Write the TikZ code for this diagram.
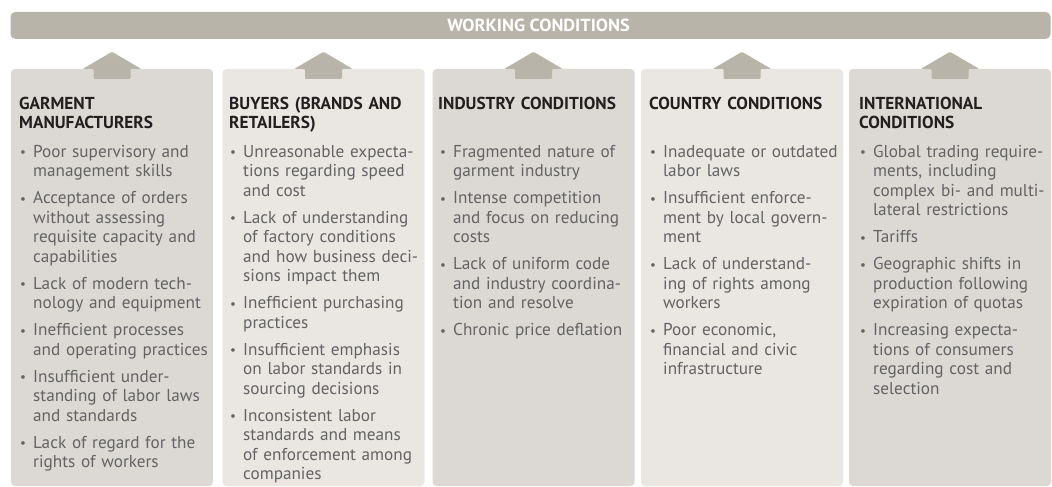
\documentclass[tikz,border=0pt]{standalone}
\usepackage{fontspec}
\setmainfont{PT Sans}
\definecolor{bannerc}{HTML}{B8B4AA}
\definecolor{darkc}{HTML}{DCD9D4}
\definecolor{lightc}{HTML}{EAE7E3}
\definecolor{headc}{HTML}{231F20}
\definecolor{bodyc}{HTML}{636365}
\newcommand\itm[1]{{\let\\\newline\hangindent=13.5pt\hangafter=1\noindent\makebox[13.5pt][l]{\hspace*{0.5pt}\raisebox{0.5pt}{\fontsize{13}{13}\selectfont •}}#1\par}\vspace{7.5pt}}
\tikzset{
  colbox/.style={draw=none, rounded corners=4pt, minimum width=202pt, minimum height=417pt, inner sep=0pt},
  upar/.style={fill=bannerc, rounded corners=1pt},
  headtxt/.style={anchor=base west, inner sep=0pt, text width=200pt, align=left, text=headc,
     font=\bfseries\fontsize{17.3}{19.5}\selectfont},
  bodytxt/.style={anchor=base west, inner sep=0pt, text width=200pt, text=bodyc,
     font=\fontsize{17.2}{19.5}\selectfont}
}
\begin{document}
\begin{tikzpicture}[x=1pt,y=-1pt]
\fill[white] (0,0) rectangle (1052,487);
\useasboundingbox (0,0) rectangle (1052,487);
% banner
\node[fill=bannerc, rounded corners=5pt, minimum width=1040pt, minimum height=27pt, inner sep=0pt] (banner) at (530.5,25.5) {};
\node[inner sep=0pt, text=white, font=\bfseries\fontsize{17.5}{17.5}\selectfont] (title) at (538.5,25.5)
      {\scalebox{1.04}[1]{WORKING CONDITIONS}};
% columns
\node[colbox, fill=darkc]  (c1) at (112,277.5) {};
\node[colbox, fill=lightc] (c2) at (323.5,277.5) {};
\node[colbox, fill=darkc]  (c3) at (533.5,277.5) {};
\node[colbox, fill=lightc] (c4) at (742,277.5) {};
\node[colbox, fill=darkc]  (c5) at (950,277.5) {};
% arrows
\foreach \c in {c1,c2,c3,c4,c5}{
  \fill[upar] (\c.north) ++(0,-17) -- ++(29,17) -- ++(-10.5,0) -- ++(0,10) -- ++(-37,0) -- ++(0,-10) -- ++(-10.5,0) -- cycle;
}
% headers
\node[headtxt] (h1) at (19,109) {GARMENT\\MANUFACTURERS};
\node[headtxt] (h2) at (229,109) {BUYERS (BRANDS AND\\RETAILERS)};
\node[headtxt] (h3) at (438,109) {INDUSTRY CONDITIONS};
\node[headtxt] (h4) at (649,109) {COUNTRY CONDITIONS};
\node[headtxt] (h5) at (859,109) {INTERNATIONAL\\CONDITIONS};
% bodies
\node[bodytxt] (b1) at (19.5,157) {%
\itm{Poor supervisory and\\management skills}
\itm{Acceptance of orders\\without assessing\\requisite capacity and\\capabilities}
\itm{Lack of modern tech-\\nology and equipment}
\itm{Inefficient processes\\and operating practices}
\itm{Insufficient under-\\standing of labor laws\\and standards}
\itm{Lack of regard for the\\rights of workers}};
\node[bodytxt] (b2) at (229.5,157) {%
\itm{Unreasonable expecta-\\tions regarding speed\\and cost}
\itm{Lack of understanding\\of factory conditions\\and how business deci-\\sions impact them}
\itm{Inefficient purchasing\\practices}
\itm{Insufficient emphasis\\on labor standards in\\sourcing decisions}
\itm{Inconsistent labor\\standards and means\\of enforcement among\\companies}};
\node[bodytxt] (b3) at (439.5,157) {%
\itm{Fragmented nature of\\garment industry}
\itm{Intense competition\\and focus on reducing\\costs}
\itm{Lack of uniform code\\and industry coordina-\\tion and resolve}
\itm{Chronic price deflation}};
\node[bodytxt] (b4) at (649.5,157) {%
\itm{Inadequate or outdated\\labor laws}
\itm{Insufficient enforce-\\ment by local govern-\\ment}
\itm{Lack of understand-\\ing of rights among\\workers}
\itm{Poor economic,\\financial and civic\\infrastructure}};
\node[bodytxt] (b5) at (859.5,157) {%
\itm{Global trading require-\\ments, including\\complex bi- and multi-\\lateral restrictions}
\itm{Tariffs}
\itm{Geographic shifts in\\production following\\expiration of quotas}
\itm{Increasing expecta-\\tions of consumers\\regarding cost and\\selection}};
\end{tikzpicture}
\end{document}
